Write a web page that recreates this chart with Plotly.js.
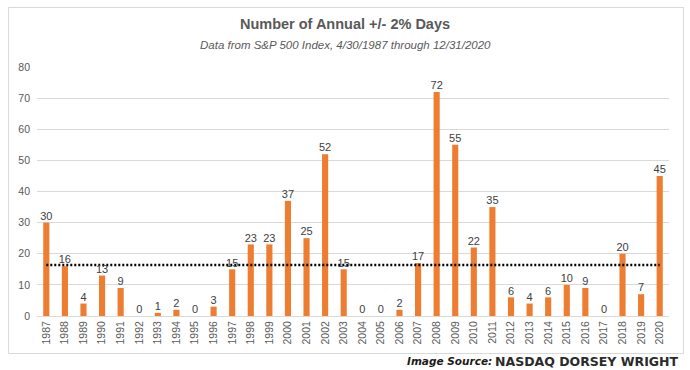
<!DOCTYPE html>
<html>
<head>
<meta charset="utf-8">
<script src="https://cdn.plot.ly/plotly-3.0.1.min.js"></script>
<style>
html,body{margin:0;padding:0;background:#fff;}
#chart{width:690px;height:370px;}
</style>
</head>
<body>
<div id="chart"></div>
<script>
const years = ["1987","1988","1989","1990","1991","1992","1993","1994","1995","1996","1997","1998","1999","2000","2001","2002","2003","2004","2005","2006","2007","2008","2009","2010","2011","2012","2013","2014","2015","2016","2017","2018","2019","2020"];
const days = [30,16,4,13,9,0,1,2,0,3,15,23,23,37,25,52,15,0,0,2,17,72,55,22,35,6,4,6,10,9,0,20,7,45];
const averageLevel = 16.4;
const averageLine = years.map(() => averageLevel);
const yTicks = [0,10,20,30,40,50,60,70,80];

const titleText = "Number of Annual +/- 2% Days";
const subtitleText = "Data from S&P 500 Index, 4/30/1987 through 12/31/2020";

const bars = {
  type: "bar",
  x: years,
  y: days,
  marker: {color: "#ED7D31"},
  width: 0.33,
  hoverinfo: "x+y",
  showlegend: false
};
const labels = {
  type: "scatter",
  mode: "text",
  x: years,
  y: days,
  text: days.map(String),
  textposition: "top center",
  textfont: {family: "Liberation Sans, Arial, sans-serif", size: 11, color: "#404040"},
  cliponaxis: false,
  hoverinfo: "skip",
  showlegend: false
};
const avg = {
  type: "scatter",
  mode: "lines",
  x: years,
  y: averageLine,
  line: {color: "#000000", width: 2.5, dash: "2px,2px"},
  hoverinfo: "y",
  showlegend: false
};

const layout = {
  width: 690,
  height: 370,
  margin: {l: 37, r: 21, t: 67, b: 54},
  paper_bgcolor: "#ffffff",
  plot_bgcolor: "#ffffff",
  font: {family: "Liberation Sans, Arial, sans-serif", color: "#595959"},
  title: {
    text: "<b>" + titleText + "</b>",
    font: {family: "Liberation Sans, Arial, sans-serif", size: 14.5, color: "#595959"},
    xref: "container", x: 0.5, xanchor: "center",
    yref: "container", y: 1 - 24/370, yanchor: "middle"
  },
  xaxis: {
    type: "category",
    range: [-0.5, years.length - 0.5],
    tickangle: -90,
    tickfont: {size: 10.5, color: "#595959"},
    showgrid: false,
    showline: true,
    linecolor: "#d9d9d9",
    linewidth: 1,
    ticks: "",
    fixedrange: true
  },
  yaxis: {
    range: [0, 80],
    tickvals: yTicks,
    ticktext: yTicks.map(String),
    tickfont: {size: 10.5, color: "#595959"},
    showgrid: true,
    gridcolor: "#d9d9d9",
    gridwidth: 1,
    zeroline: false,
    showline: false,
    ticks: "",
    ticklabelstandoff: 6,
    fixedrange: true
  },
  bargap: 0.67,
  shapes: [{
    type: "rect", xref: "paper", yref: "paper",
    x0: (8.5 - 37) / 632, x1: (683.5 - 37) / 632,
    y0: (316 - 353.5) / 249, y1: (316 - 7.5) / 249,
    line: {color: "#d9d9d9", width: 1},
    fillcolor: "rgba(0,0,0,0)",
    layer: "below"
  }],
  annotations: [
    {
      text: "<i>" + subtitleText + "</i>",
      xref: "paper", yref: "paper",
      x: (345 - 37) / 632, y: (316 - 45) / 249,
      xanchor: "center", yanchor: "middle",
      showarrow: false,
      font: {family: "Liberation Sans, Arial, sans-serif", size: 11.5, color: "#595959"}
    },
    {
      text: "<b><i>Image Source:</i></b>",
      xref: "paper", yref: "paper",
      x: (494 - 37) / 632, y: (316 - 361) / 249,
      xanchor: "right", yanchor: "middle",
      showarrow: false,
      font: {family: "DejaVu Sans, sans-serif", size: 10.5, color: "#1a1a1a"}
    },
    {
      text: "<b>NASDAQ DORSEY WRIGHT</b>",
      xref: "paper", yref: "paper",
      x: (681 - 37) / 632, y: (316 - 361) / 249,
      xanchor: "right", yanchor: "middle",
      showarrow: false,
      font: {family: "DejaVu Sans, sans-serif", size: 12.5, color: "#2b2b2b"}
    }
  ]
};

Plotly.newPlot("chart", [bars, avg, labels], layout, {displayModeBar: false, staticPlot: true});
</script>
</body>
</html>
